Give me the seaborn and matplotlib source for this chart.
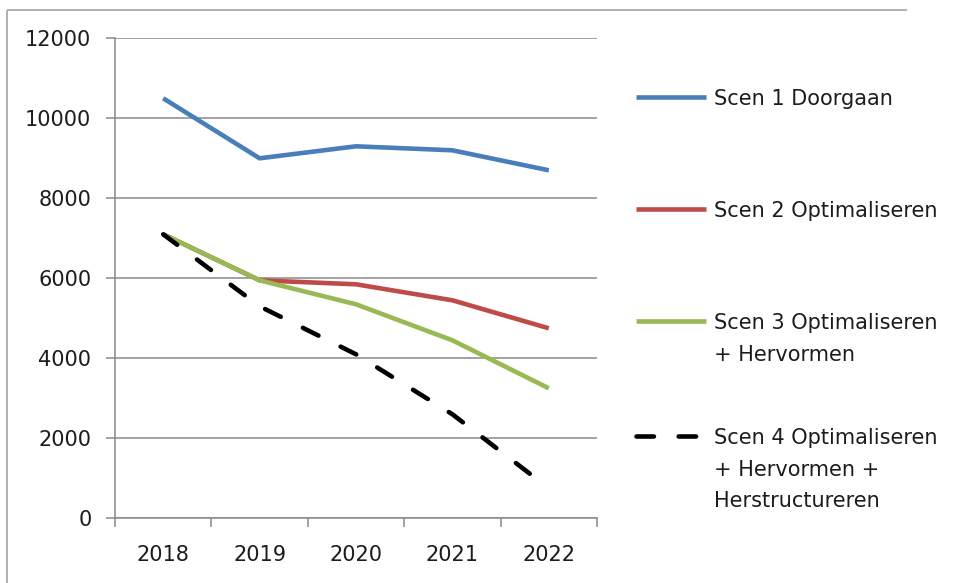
import matplotlib
matplotlib.use("Agg")
import numpy as np
import pandas as pd
import matplotlib.pyplot as plt
import seaborn as sns
from matplotlib.lines import Line2D
from matplotlib.offsetbox import HPacker

# data
jaren = ["2018", "2019", "2020", "2021", "2022"]
scen1 = [10500, 9000, 9300, 9200, 8700]
scen2 = [7100, 5950, 5850, 5450, 4750]
scen3 = [7100, 5950, 5350, 4450, 3250]
scen4 = [7100, 5300, 4100, 2600, 750]
labels = [
    "Scen 1 Doorgaan",
    "Scen 2 Optimaliseren",
    "Scen 3 Optimaliseren\n+ Hervormen",
    "Scen 4 Optimaliseren\n+ Hervormen +\nHerstructureren",
]
y_ticks = [0, 2000, 4000, 6000, 8000, 10000, 12000]

kleuren = ["#4a7ebb", "#be4b48", "#98b954", "#000000"]
grijs = "#898989"
tekst = "#1c1c1c"
lw = 3.3
fs = 15

df = pd.DataFrame({
    "Jaar": jaren * 4,
    "Waarde": scen1 + scen2 + scen3 + scen4,
    "Scenario": [l for l in labels for _ in jaren],
})

sns.set_theme(style="white")
plt.rcParams["font.family"] = ["DejaVu Sans"]
plt.rcParams["text.color"] = tekst
plt.rcParams["xtick.color"] = tekst
plt.rcParams["ytick.color"] = tekst

W, H = 955, 583
fig = plt.figure(figsize=(W / 100, H / 100), dpi=100)
fig.patch.set_facecolor("white")
fig.patch.set_edgecolor("white")
fig.patch.set_linewidth(0)
ax = fig.add_axes([115 / W, 1 - 518.3 / H, 482 / W, 480 / H])

dash_map = {labels[0]: "", labels[1]: "", labels[2]: "", labels[3]: (3.8, 5.4)}
sns.lineplot(data=df, x="Jaar", y="Waarde", hue="Scenario", style="Scenario",
             palette=dict(zip(labels, kleuren)), dashes=dash_map,
             linewidth=lw, sort=False, legend=False, ax=ax)
for ln in ax.lines:
    ln.set_dash_capstyle("round")
    ln.set_solid_capstyle("butt")

ax.set_xlim(-0.5, len(jaren) - 0.5)
ax.set_ylim(0, 12000)
ax.set_yticks(y_ticks)
ax.set_yticklabels([str(v) for v in y_ticks])
ax.set_xticks(range(len(jaren)))
ax.set_xticklabels(jaren)
ax.set_xticks(np.arange(-0.5, len(jaren), 1.0), minor=True)
ax.set_xlabel("")
ax.set_ylabel("")

ax.tick_params(axis="y", which="major", left=True, length=6.5, width=1.1,
               color=grijs, pad=10.5, labelsize=fs)
ax.tick_params(axis="x", which="major", bottom=False, length=0, pad=19,
               labelsize=fs)
ax.tick_params(axis="x", which="minor", bottom=True, length=6.5, width=1.1,
               color=grijs)

ax.grid(axis="y", color=grijs, linewidth=1.1)
ax.grid(axis="x", visible=False)
ax.set_axisbelow(True)
for s in ["top", "right"]:
    ax.spines[s].set_visible(False)
for s in ["left", "bottom"]:
    ax.spines[s].set_color(grijs)
    ax.spines[s].set_linewidth(1.1)

# legend entries, one per scenario, placed like the Excel legend
leg_y = [97, 209, 321, 436]
for lab, kl, yy in zip(labels, kleuren, leg_y):
    h = Line2D([], [], color=kl, linewidth=lw,
               dashes=dash_map[lab] if dash_map[lab] else (None, None))
    if dash_map[lab]:
        h.set_dash_capstyle("round")
    else:
        h.set_solid_capstyle("butt")
    leg = fig.legend([h], [lab], loc="upper left",
                     bbox_to_anchor=(636 / W, 1 - (yy - 8) / H),
                     bbox_transform=fig.transFigure, frameon=False,
                     borderpad=0, borderaxespad=0, handlelength=3.35,
                     handleheight=1.0, handletextpad=0.38, fontsize=fs)
    for t in leg.get_texts():
        t.set_linespacing(1.72)
        t.set_color(tekst)
    # handle next to the first text line, as in Excel
    for hp in leg.findobj(HPacker):
        hp.align = "top"

# outer chart border (only left and top visible in the crop)
rand = "#a3a3a3"
fig.add_artist(Line2D([6.5 / W, 6.5 / W], [0, 1 - 10 / H],
                      transform=fig.transFigure, color=rand, linewidth=1.2,
                      solid_capstyle="butt"))
fig.add_artist(Line2D([6.5 / W, 0.95], [1 - 10 / H, 1 - 10 / H],
                      transform=fig.transFigure, color=rand, linewidth=1.2,
                      solid_capstyle="butt"))

fig.savefig("out.png", dpi=100)
